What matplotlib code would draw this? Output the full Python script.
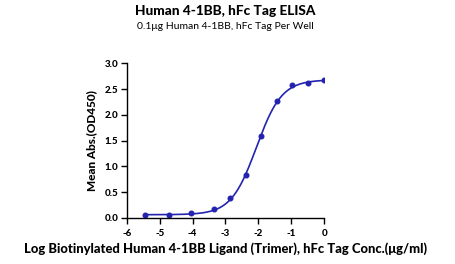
import numpy as np
import matplotlib.pyplot as plt
from matplotlib.ticker import FormatStrFormatter

# data (log10 conc, mean OD450)
log_conc = [-5.44, -4.73, -4.04, -3.35, -2.86, -2.39, -1.93, -1.44, -0.97, -0.48, 0.0]
od450 = [0.058, 0.058, 0.084, 0.168, 0.38, 0.84, 1.59, 2.26, 2.58, 2.61, 2.67]

# 4PL fit shown on the chart
bottom, top, log_ec50, hill = 0.06, 2.68, -2.06, 1.13

title = "Human 4-1BB, hFc Tag ELISA"
subtitle = "0.1\u03bcg Human 4-1BB, hFc Tag Per Well"
xlabel = "Log Biotinylated Human 4-1BB Ligand (Trimer), hFc Tag Conc.(\u03bcg/ml)"
ylabel = "Mean Abs.(OD450)"

plt.rcParams['font.family'] = ['Lato', 'DejaVu Sans']
plt.rcParams['axes.unicode_minus'] = False
col = '#2323b0'
heavy = 'black'

fig = plt.figure(figsize=(4.56, 2.64), dpi=100)
ax = fig.add_axes([0.278, 0.175, 0.433, 0.585])

xs = np.linspace(min(log_conc), max(log_conc), 300)
ys = bottom + (top - bottom) / (1 + 10 ** ((log_ec50 - xs) * hill))
ax.plot(xs, ys, color=col, lw=1.2)
ax.plot(log_conc, od450, 'o', color=col, ms=3.3)

ax.set_xlim(-6, 0)
ax.set_ylim(0, 3.0)
ax.set_xticks(range(-6, 1))
ax.set_yticks(np.arange(0, 3.01, 0.5))
ax.yaxis.set_major_formatter(FormatStrFormatter('%.1f'))
for s in ['top', 'right']:
    ax.spines[s].set_visible(False)
for s in ['left', 'bottom']:
    ax.spines[s].set_linewidth(1.0)
ax.tick_params(length=4, width=1.0, labelsize=7, pad=2)
for lab in ax.get_xticklabels() + ax.get_yticklabels():
    lab.set_fontweight(heavy)
ax.xaxis.set_tick_params(pad=4)

ax.set_xlabel(xlabel, fontsize=9.4, fontweight=heavy, labelpad=3)
ax.set_ylabel(ylabel, fontsize=8.5, fontweight=heavy, labelpad=5)

fig.text(0.494, 0.958, title, ha='center', va='center', fontsize=9.8, fontweight=heavy)
fig.text(0.494, 0.9, subtitle, ha='center', va='center', fontsize=7.5)

fig.savefig('out.png', dpi=100)
